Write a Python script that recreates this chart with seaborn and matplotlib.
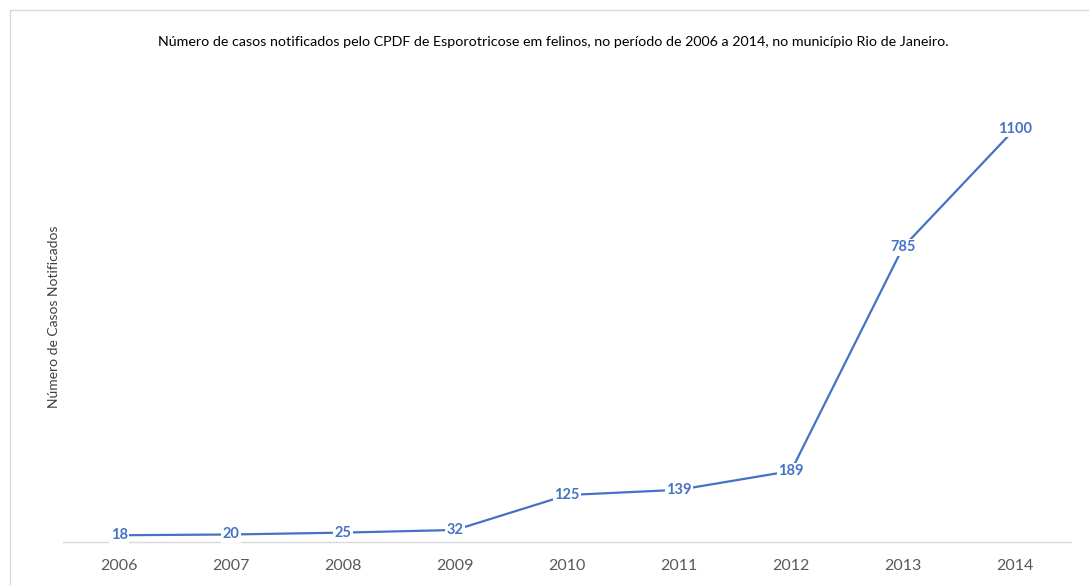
import matplotlib.pyplot as plt
import matplotlib.patches as mpatches
import pandas as pd
import seaborn as sns

# Data
anos = ['2006', '2007', '2008', '2009', '2010', '2011', '2012', '2013', '2014']
casos = [18, 20, 25, 32, 125, 139, 189, 785, 1100]

df = pd.DataFrame({'Ano': anos, 'Casos': casos})

sns.set_style('white')
plt.rcParams['font.family'] = ['Lato', 'DejaVu Sans']

fig = plt.figure(figsize=(10.89, 5.85), dpi=100)
ax = fig.add_axes([0.058, 0.0735, 0.9255, 0.7705])

azul = '#4472C4'
sns.lineplot(data=df, x='Ano', y='Casos', color=azul, linewidth=1.6, ax=ax)

# data labels on top of the line, white box breaks the line
for i, v in enumerate(casos):
    ax.text(i, v, str(v), ha='center', va='center', color=azul,
            fontsize=10.5, fontweight='bold',
            bbox=dict(boxstyle='square,pad=0.1', facecolor='white', edgecolor='none'))

ax.set_xlim(-0.5, len(anos) - 0.5)
ax.set_ylim(0, 1200)
ax.set_yticks([])
ax.set_xlabel('')
ax.set_ylabel('Número de Casos Notificados', fontsize=10, color='#404040', labelpad=2)
ax.tick_params(axis='x', length=0, labelsize=11.5, labelcolor='#595959', pad=12)

for s in ['top', 'right', 'left']:
    ax.spines[s].set_visible(False)
ax.spines['bottom'].set_color('#D9D9D9')
ax.spines['bottom'].set_linewidth(1)

fig.text(0.508, 0.928, 'Número de casos notificados pelo CPDF de Esporotricose em felinos, '
         'no período de 2006 a 2014, no município Rio de Janeiro.',
         ha='center', va='center', fontsize=10.3, color='black')

# chart area border
fig.patches.append(mpatches.Rectangle((10 / 1089, -0.1), 1.2, 1 - 10 / 585 + 0.1,
                                      transform=fig.transFigure, fill=False,
                                      edgecolor='#D9D9D9', linewidth=1))

fig.savefig('out.png', dpi=100)
